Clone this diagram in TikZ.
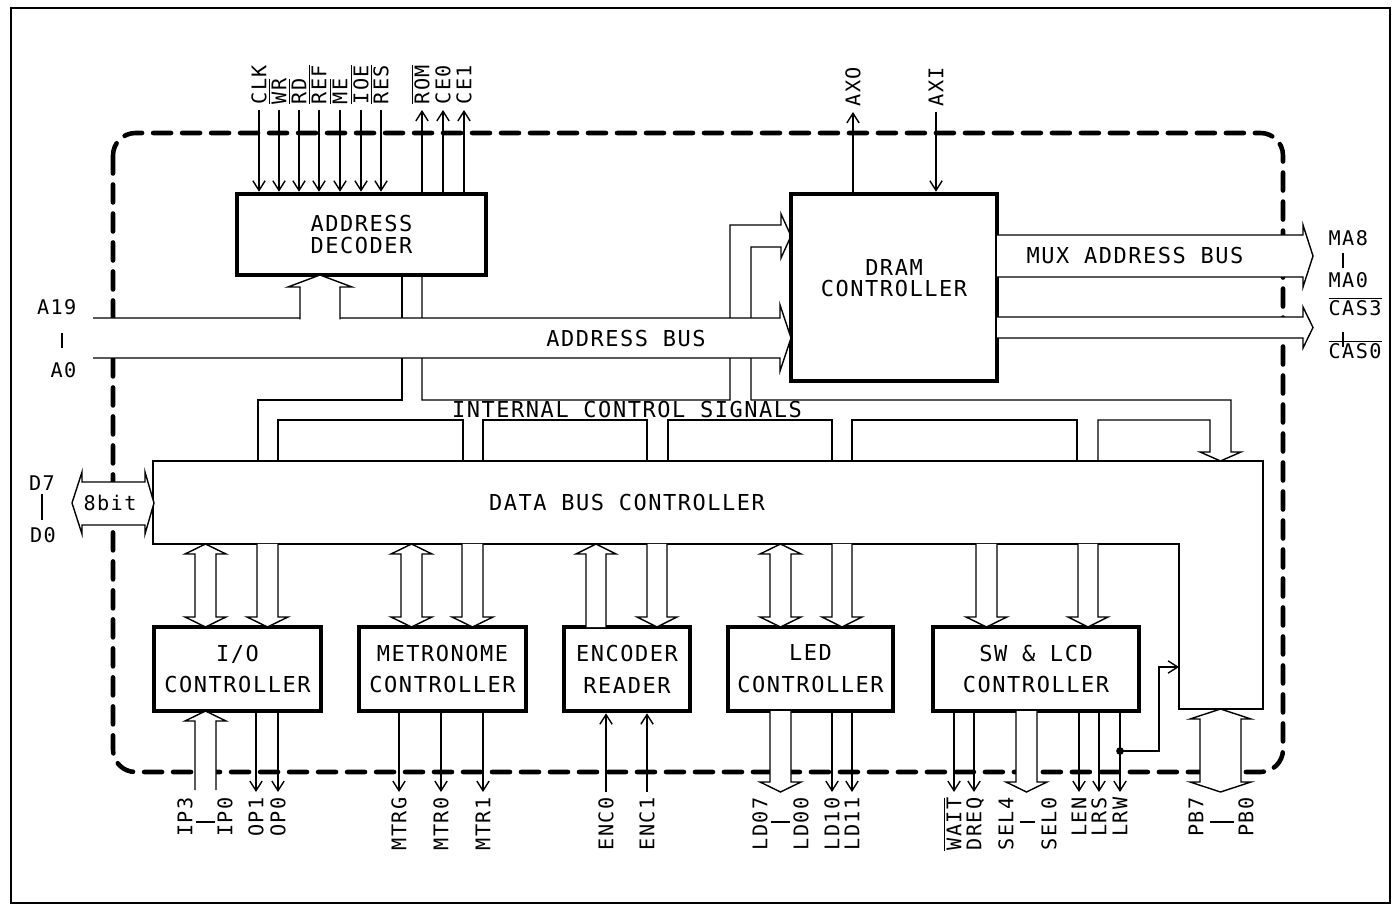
\documentclass[tikz,border=0pt]{standalone}
\usepackage{fontspec}
\setmainfont{DejaVu Sans Mono}[LetterSpace=7]
\usetikzlibrary{arrows.meta}

\newcommand{\ovl}[1]{$\overline{\mbox{#1}}$}
% wide bus arrows (x left, x right, y start, y tip)
\newcommand{\busdown}[4]{\filldraw[bus] (#1,#3) -- (#1,#4-10) -- (#1-10,#4-10) -- ({(#1+#2)/2},#4) -- (#2+10,#4-10) -- (#2,#4-10) -- (#2,#3);}
\newcommand{\busup}[4]{\filldraw[bus] (#1,#3) -- (#1,#4+10) -- (#1-10,#4+10) -- ({(#1+#2)/2},#4) -- (#2+10,#4+10) -- (#2,#4+10) -- (#2,#3);}
\newcommand{\busboth}[4]{\filldraw[bus] ({(#1+#2)/2},#3) -- (#1-10,#3+10) -- (#1,#3+10) -- (#1,#4-10) -- (#1-10,#4-10) -- ({(#1+#2)/2},#4) -- (#2+10,#4-10) -- (#2,#4-10) -- (#2,#3+10) -- (#2+10,#3+10) -- cycle;}
% (y top, y bottom, x start, x tip)
\newcommand{\busright}[4]{\filldraw[bus] (#3,#1) -- (#4-10,#1) -- (#4-10,#1-10) -- (#4,{(#1+#2)/2}) -- (#4-10,#2+10) -- (#4-10,#2) -- (#3,#2);}

\begin{document}
\begin{tikzpicture}[x=0.02cm, y=-0.02cm,
    wire/.style={line width=0.8pt},
    sig/.style={wire, -{Straight Barb[length=5.5pt,width=7pt]}},
    bus/.style={wire, fill=white},
    blk/.style={draw, line width=2.6pt, fill=white, inner sep=0pt, align=center,
        font=\fontsize{12.5}{12}\selectfont},
    ctl/.style={blk, minimum height=1.68cm, font=\fontsize{12.5}{18.2}\selectfont},
    txt/.style={inner sep=0pt, align=center, font=\fontsize{12.5}{12}\selectfont},
    sigl/.style={inner sep=3pt, font=\fontsize{11.5}{12}\selectfont, text height=8.4pt, text depth=0pt},
    chipedge/.style={line width=2.6pt, dash pattern=on 0.36cm off 0.22cm, line cap=round, rounded corners=0.45cm}]
    \useasboundingbox (0,0) rectangle (1399,911);
    % sheet frame and chip outline
    \draw[wire] (11,8) rectangle (1390,903);
    \draw[chipedge] (113,133) rectangle (1283,772);

    % blocks
    \node[blk, minimum width=4.98cm, minimum height=1.62cm] (dec) at (361.5,234.5) {ADDRESS\\DECODER};
    \node[blk, minimum width=4.12cm, minimum height=3.74cm] (dram) at (894,287.5) {};
    \node[txt] (dramtxt) at (894,278.5) {DRAM\\CONTROLLER};
    \node[ctl, minimum width=3.34cm] (io) at (237.5,669) {I/O\\CONTROLLER};
    \node[ctl, minimum width=3.34cm] (met) at (442.5,669) {METRONOME\\CONTROLLER};
    \node[ctl, minimum width=2.52cm] (enc) at (627,669) {ENCODER\\READER};
    \node[ctl, minimum width=3.30cm] (led) at (810.5,669) {LED\\CONTROLLER};
    \node[ctl, minimum width=4.12cm] (sw) at (1036,669) {SW \& LCD\\CONTROLLER};
    \node[minimum width=22.2cm, minimum height=1.66cm, inner sep=0pt, outer sep=0pt] (dbc) at (708,502.5) {};
    \draw[wire] (dbc.north west) -- (dbc.north east) -- ++(0,248) -- ++(-84,0) |- (dbc.south west) -- cycle;
    \node[txt] (dbctxt) at (627,503) {DATA BUS CONTROLLER};

    % internal control signals
    \draw[wire] (258,461) -- (258,400) -- (402,400) -- (402,275);
    \draw[wire] (422,275) -- (422,400) -- (730,400) -- (730,225) -- (781,225) -- (781,214) -- (791,236)
        -- (781,258) -- (781,247) -- (751,247) -- (751,400) -- (1231,400) -- (1231,452) -- (1241,452)
        -- (1220.5,461) -- (1200,452) -- (1210,452) -- (1210,420) -- (1098,420) -- (1098,461);
    \foreach \a/\b in {278/463, 483/647, 668/832, 852/1077}
        \draw[wire] (\a,461) -- (\a,420) -- (\b,420) -- (\b,461);
    \node[txt] (icstxt) at (627,410) {INTERNAL CONTROL SIGNALS};

    % address bus
    \filldraw[bus] (93,318) -- (780,318) -- (780,305) -- (791,338) -- (780,371) -- (780,358) -- (93,358);
    \filldraw[bus] (300,319.5) -- (300,287) -- (288,287) -- (320,275) -- (352,287) -- (340,287) -- (340,319.5);
    \node[txt] (abtxt) at (626,339) {ADDRESS BUS};
    \node[sigl, anchor=east] (a19) at (82,307) {A19};
    \node[sigl, anchor=east] (a0) at (82,370) {A0};
    \draw[wire] (62,333) -- (62,348);

    % data bus
    \filldraw[bus] (72,503) -- (82,472) -- (82,482) -- (145,482) -- (145,472) -- (154,503)
        -- (145,534) -- (145,525) -- (82,525) -- (82,534) -- cycle;
    \node[sigl] (bits) at (110,503) {8bit};
    \node[sigl] (d7) at (42,483) {D7};
    \node[sigl] (d0) at (43,535) {D0};
    \draw[wire] (42,494) -- (42,520);

    % decoder signals
    \foreach \n/\x/\lab in {clk/259/CLK, wr/279/{\ovl{WR}}, rd/299/{\ovl{RD}}, ref/319/{\ovl{REF}},
        me/340/{\ovl{ME}}, ioe/361/{\ovl{IOE}}, res/381/{\ovl{RES}}} {
        \node[sigl, rotate=90, anchor=west] (\n) at (\x,110) {\lab};
        \draw[sig] (\n.west) -- (\n.west |- dec.north);
    }
    \foreach \n/\x/\lab in {rom/422/{\ovl{ROM}}, ce0/443/CE0, ce1/464/CE1} {
        \node[sigl, rotate=90, anchor=west] (\n) at (\x,110) {\lab};
        \draw[sig] (\n.west |- dec.north) -- (\n.west);
    }

    % DRAM signals
    \node[sigl, rotate=90, anchor=west] (axo) at (853,112) {AXO};
    \node[sigl, rotate=90, anchor=west] (axi) at (936,112) {AXI};
    \draw[sig] (axo.west |- dram.north) -- (axo.west);
    \draw[sig] (axi.west) -- (axi.west |- dram.north);
    \busright{235}{277}{997}{1313}
    \busright{317}{338}{997}{1313}
    \node[txt] (muxtxt) at (1135,256) {MUX ADDRESS BUS};
    \node[sigl, anchor=west] (ma8) at (1323,238) {MA8};
    \node[sigl, anchor=west] (ma0) at (1323,280) {MA0};
    \draw[wire] (1343,253) -- (1343,268);
    \node[sigl, anchor=west] (cas3) at (1323,308) {\ovl{CAS3}};
    \node[sigl, anchor=west] (cas0) at (1323,351) {\ovl{CAS0}};
    \draw[wire] (1343,332) -- (1343,347);

    % data bus to controllers
    \busboth{195}{216}{544}{627}
    \busdown{257}{278}{544}{627}
    \busboth{401}{422}{544}{627}
    \busdown{462}{483}{544}{627}
    \busup{586}{606}{627}{544}
    \busdown{647}{667}{544}{627}
    \busboth{770}{791}{544}{627}
    \busdown{832}{852}{544}{627}
    \busdown{976}{997}{544}{627}
    \busdown{1078}{1098}{544}{627}

    % I/O controller
    \busup{195}{216}{790}{711}
    \node[sigl, rotate=90, anchor=east] (ip3) at (185,792) {IP3};
    \node[sigl, rotate=90, anchor=east] (ip0) at (225,792) {IP0};
    \draw[wire] (196,822) -- (215,822);
    \foreach \n/\x/\lab in {op1/256/OP1, op0/278/OP0} {
        \node[sigl, rotate=90, anchor=east] (\n) at (\x,792) {\lab};
        \draw[sig] (\n.east |- io.south) -- (\n.east);
    }

    % metronome
    \foreach \n/\x/\lab in {mtrg/399/MTRG, mtr0/441/MTR0, mtr1/483/MTR1} {
        \node[sigl, rotate=90, anchor=east] (\n) at (\x,792) {\lab};
        \draw[sig] (\n.east |- met.south) -- (\n.east);
    }

    % encoder
    \foreach \n/\x/\lab in {enc0/606/ENC0, enc1/647/ENC1} {
        \node[sigl, rotate=90, anchor=east] (\n) at (\x,792) {\lab};
        \draw[sig] (\n.east) -- (\n.east |- enc.south);
    }

    % LED
    \busdown{770}{791}{711}{792}
    \node[sigl, rotate=90, anchor=east] (ld07) at (760,792) {LD07};
    \node[sigl, rotate=90, anchor=east] (ld00) at (801,792) {LD00};
    \draw[wire] (771,822) -- (790,822);
    \foreach \n/\x/\lab in {ld10/832/LD10, ld11/852/LD11} {
        \node[sigl, rotate=90, anchor=east] (\n) at (\x,792) {\lab};
        \draw[sig] (\n.east |- led.south) -- (\n.east);
    }

    % SW & LCD
    \busdown{1016}{1037}{711}{792}
    \node[sigl, rotate=90, anchor=east] (sel4) at (1006,792) {SEL4};
    \node[sigl, rotate=90, anchor=east] (sel0) at (1049,792) {SEL0};
    \draw[wire] (1020,822) -- (1035,822);
    \foreach \n/\x/\lab in {wait/954/{\ovl{WAIT}}, dreq/974/DREQ, len/1079/LEN, lrs/1099/LRS, lrw/1120/LRW} {
        \node[sigl, rotate=90, anchor=east] (\n) at (\x,792) {\lab};
        \draw[sig] (\n.east |- sw.south) -- (\n.east);
    }
    \coordinate (tap) at (lrw.east |- 0,751);
    \fill (tap) circle (2.2pt);
    \draw[sig] (tap) -- ++(39,0) |- (1179,667);

    % port B
    \busboth{1200}{1241}{709}{792}
    \node[sigl, rotate=90, anchor=east] (pb7) at (1196,792) {PB7};
    \node[sigl, rotate=90, anchor=east] (pb0) at (1246,792) {PB0};
    \draw[wire] (1210,822) -- (1234,822);
\end{tikzpicture}
\end{document}
